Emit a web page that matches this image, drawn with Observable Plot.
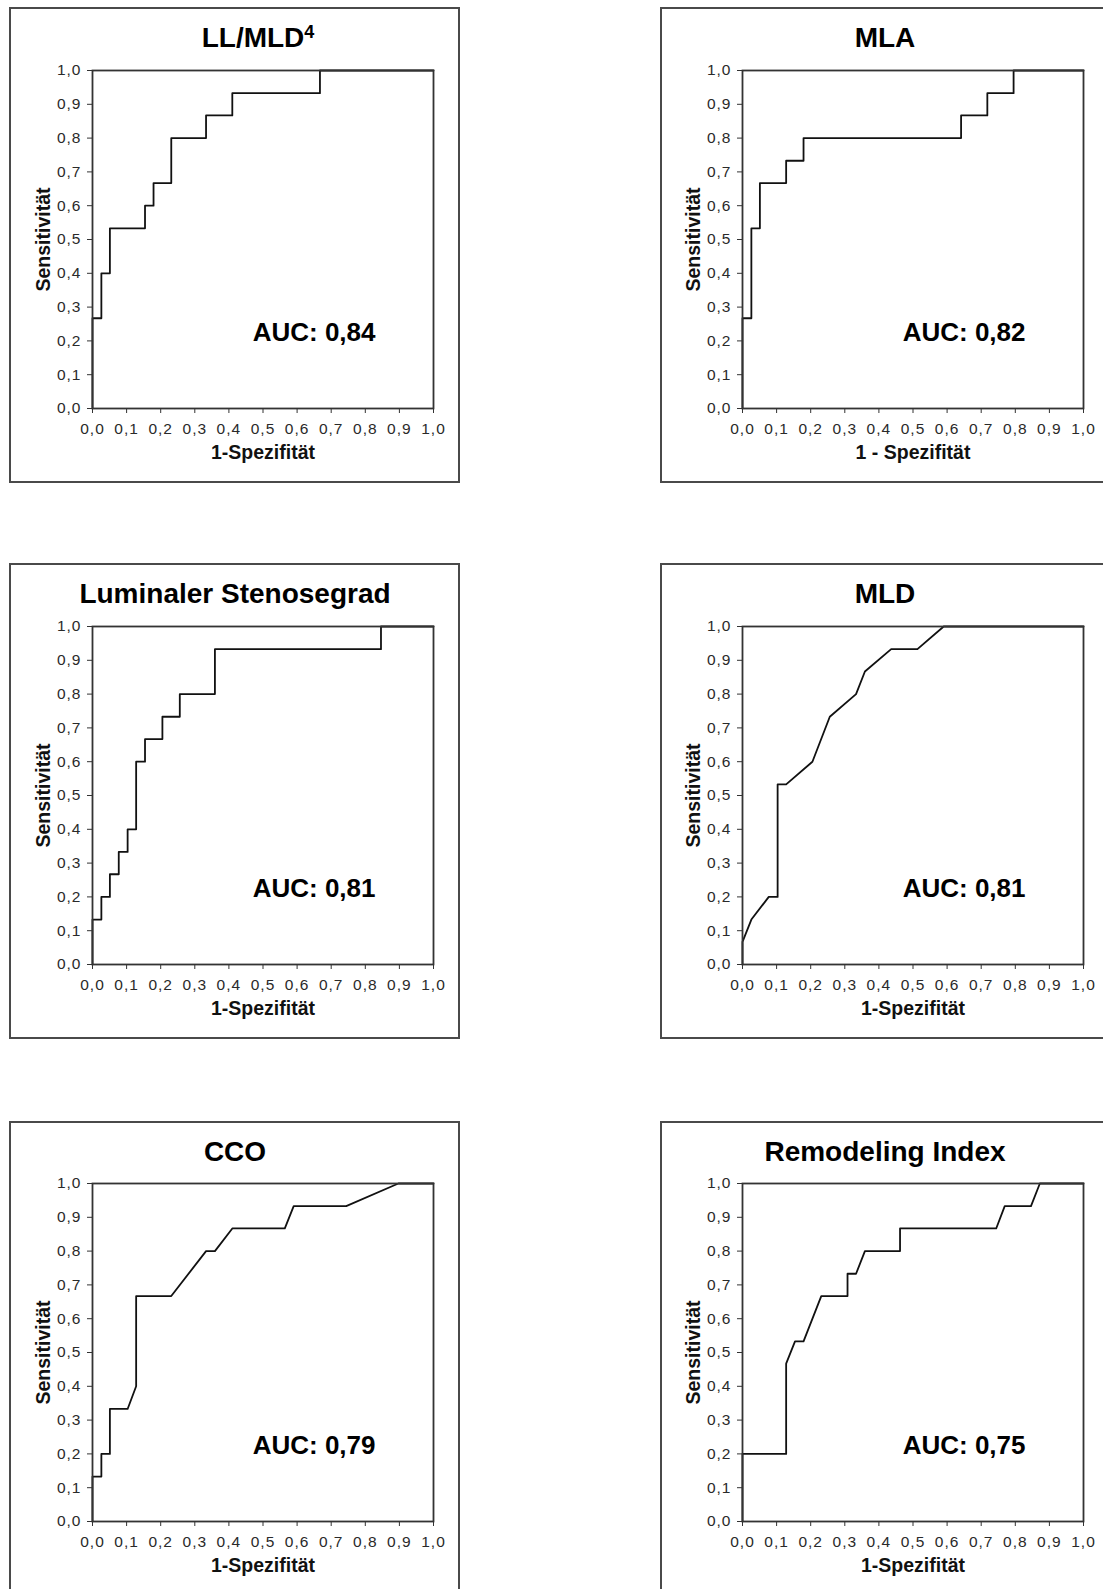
<!DOCTYPE html>
<html><head><meta charset="utf-8">
<script src="https://cdn.jsdelivr.net/npm/d3@7"></script>
<script src="https://cdn.jsdelivr.net/npm/@observablehq/plot@0.6"></script>
<style>
body{margin:0;background:#fff;}
#page{position:relative;width:1103px;height:1589px;overflow:hidden;background:#fff;font-family:"Liberation Sans",Arial,sans-serif;}
.box{position:absolute;border:2px solid #4a4a4a;box-sizing:border-box;width:451px;height:476px;}
.title{position:absolute;font-weight:bold;font-size:28px;color:#000;white-space:nowrap;transform:translateX(-50%);line-height:1;}
.title sup{font-size:18px;vertical-align:top;position:relative;top:-1px;}
.panel{position:absolute;width:450px;height:480px;}
.panel svg{max-width:none !important;}
.panel g[aria-label$="tick label"] text{letter-spacing:1px;}
</style></head><body><div id="page"></div>
<script>
// ---- data ----
const titles = ["LL/MLD⁴", "MLA", "Luminaler Stenosegrad", "MLD", "CCO", "Remodeling Index"];
const xLabels = ["1-Spezifität", "1 - Spezifität", "1-Spezifität", "1-Spezifität", "1-Spezifität", "1-Spezifität"];
const yLabel = "Sensitivität";
const aucValues = [0.84, 0.82, 0.81, 0.81, 0.79, 0.75];
const tickValues = [0, 0.1, 0.2, 0.3, 0.4, 0.5, 0.6, 0.7, 0.8, 0.9, 1.0];

const fprLLMLD4 = [0, 0, 0.026, 0.026, 0.051, 0.051, 0.154, 0.154, 0.179, 0.179, 0.231, 0.231, 0.333, 0.333, 0.41, 0.41, 0.667, 0.667, 1];
const tprLLMLD4 = [0, 0.267, 0.267, 0.4, 0.4, 0.533, 0.533, 0.6, 0.6, 0.667, 0.667, 0.8, 0.8, 0.867, 0.867, 0.933, 0.933, 1, 1];

const fprMLA = [0, 0, 0.026, 0.026, 0.051, 0.051, 0.128, 0.128, 0.179, 0.179, 0.641, 0.641, 0.718, 0.718, 0.795, 0.795, 1];
const tprMLA = [0, 0.267, 0.267, 0.533, 0.533, 0.667, 0.667, 0.733, 0.733, 0.8, 0.8, 0.867, 0.867, 0.933, 0.933, 1, 1];

const fprLumen = [0, 0, 0.026, 0.026, 0.051, 0.051, 0.077, 0.077, 0.103, 0.103, 0.128, 0.128, 0.154, 0.154, 0.205, 0.205, 0.256, 0.256, 0.359, 0.359, 0.846, 0.846, 1];
const tprLumen = [0, 0.133, 0.133, 0.2, 0.2, 0.267, 0.267, 0.333, 0.333, 0.4, 0.4, 0.6, 0.6, 0.667, 0.667, 0.733, 0.733, 0.8, 0.8, 0.933, 0.933, 1, 1];

const fprMLD = [0, 0, 0.026, 0.077, 0.103, 0.103, 0.128, 0.205, 0.256, 0.333, 0.359, 0.436, 0.513, 0.59, 1];
const tprMLD = [0, 0.067, 0.133, 0.2, 0.2, 0.533, 0.533, 0.6, 0.733, 0.8, 0.867, 0.933, 0.933, 1, 1];

const fprCCO = [0, 0, 0.026, 0.026, 0.051, 0.051, 0.103, 0.128, 0.128, 0.231, 0.333, 0.359, 0.41, 0.564, 0.59, 0.744, 0.897, 1];
const tprCCO = [0, 0.133, 0.133, 0.2, 0.2, 0.333, 0.333, 0.4, 0.667, 0.667, 0.8, 0.8, 0.867, 0.867, 0.933, 0.933, 1, 1];

const fprRemod = [0, 0, 0.128, 0.128, 0.154, 0.179, 0.231, 0.308, 0.308, 0.333, 0.359, 0.462, 0.462, 0.744, 0.769, 0.846, 0.872, 1];
const tprRemod = [0, 0.2, 0.2, 0.467, 0.533, 0.533, 0.667, 0.667, 0.733, 0.733, 0.8, 0.8, 0.867, 0.867, 0.933, 0.933, 1, 1];

const fprSeries = [fprLLMLD4, fprMLA, fprLumen, fprMLD, fprCCO, fprRemod];
const tprSeries = [tprLLMLD4, tprMLA, tprLumen, tprMLD, tprCCO, tprRemod];

// ---- layout ----
const page = document.getElementById("page");
const colPlotLeft = [92, 742];
const rowPlotTop = [70, 626, 1183];
const colBoxLeft = [9, 660];
const rowBoxTop = [7, 563, 1121];
const titleCenter = [[258, 885], [235, 885], [235, 885]];
const titleBaselineOffset = 38;
const mL = 82, mR = 27, mT = 62, mB = 80, pw = 341, ph = 338;
const fmt = d => d.toFixed(1).replace(".", ",");

for (let i = 0; i < 6; i++) {
  const row = Math.floor(i / 2), col = i % 2;
  const box = document.createElement("div");
  box.className = "box";
  box.style.left = colBoxLeft[col] + "px";
  box.style.top = rowBoxTop[row] + "px";
  page.appendChild(box);

  const t = document.createElement("div");
  t.className = "title";
  t.innerHTML = titles[i].replace("⁴", "<sup>4</sup>");
  t.style.left = titleCenter[row][col] + "px";
  t.style.top = (rowBoxTop[row] + titleBaselineOffset - 21) + "px";
  page.appendChild(t);

  const data = fprSeries[i].map((x, k) => ({x, y: tprSeries[i][k]}));
  const chart = Plot.plot({
    width: mL + pw + mR,
    height: mT + ph + mB,
    marginLeft: mL, marginRight: mR, marginTop: mT, marginBottom: mB,
    style: {fontFamily: '"Liberation Sans", Arial, sans-serif', fontSize: "15.5px", color: "#2a2a2a", background: "transparent", overflow: "visible"},
    x: {domain: [0, 1]},
    y: {domain: [0, 1]},
    marks: [
      Plot.line(data, {x: "x", y: "y", stroke: "#111", strokeWidth: 1.8, curve: "linear"}),
      Plot.frame({stroke: "#333", strokeWidth: 1.8}),
      Plot.axisX({ticks: tickValues, tickFormat: fmt, tickSize: 5, tickPadding: 9, label: null, stroke: "#333", fontSize: 15.5}),
      Plot.axisY({ticks: tickValues, tickFormat: fmt, tickSize: 5, tickPadding: 6, label: null, stroke: "#333", fontSize: 15.5}),
      Plot.text([xLabels[i]], {frameAnchor: "bottom", textAnchor: "middle", lineAnchor: "bottom", dy: 50, fontWeight: "bold", fontSize: 19.5, fill: "#111", text: d => d}),
      Plot.text([yLabel], {frameAnchor: "left", textAnchor: "middle", lineAnchor: "bottom", rotate: -90, dx: -43, fontWeight: "bold", fontSize: 19.5, fill: "#111", text: d => d}),
      Plot.text([aucValues[i]], {frameAnchor: "bottom-right", textAnchor: "end", lineAnchor: "bottom", dx: -58, dy: -68, fontWeight: "bold", fontSize: 26, fill: "#000", text: d => "AUC: " + d.toFixed(2).replace(".", ",")})
    ]
  });
  const holder = document.createElement("div");
  holder.className = "panel";
  holder.style.left = (colPlotLeft[col] - mL) + "px";
  holder.style.top = (rowPlotTop[row] - mT) + "px";
  holder.appendChild(chart);
  page.appendChild(holder);
}
</script></body></html>
